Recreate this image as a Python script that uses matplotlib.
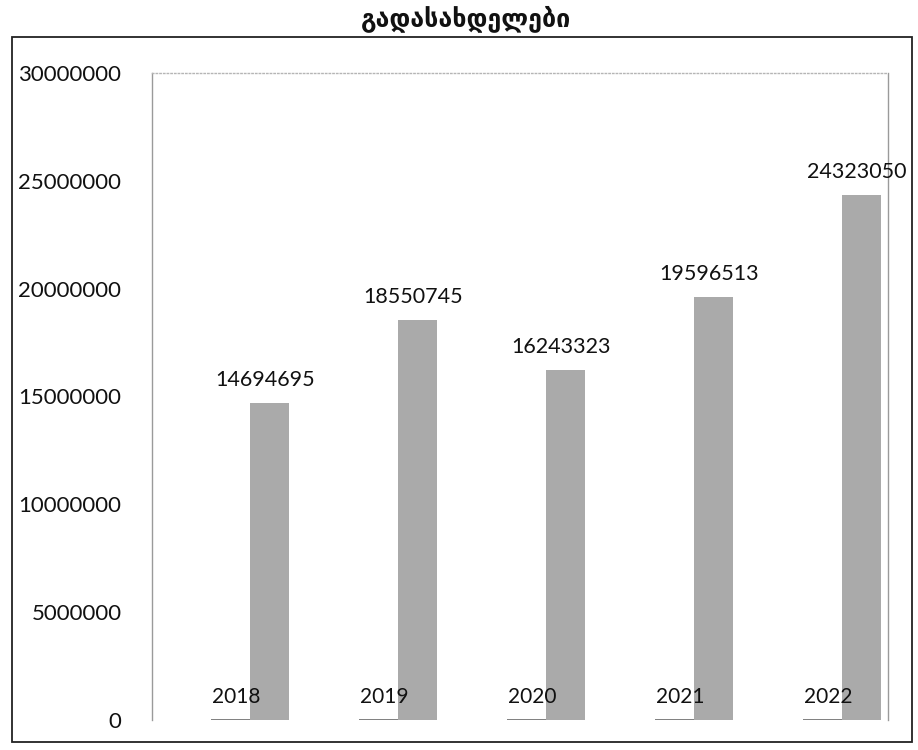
import numpy as np
import matplotlib.pyplot as plt
from matplotlib.patches import Rectangle

# データ
years = [2018, 2019, 2020, 2021, 2022]
amounts = [14694695, 18550745, 16243323, 19596513, 24323050]
title = "გადასახდელები"

fig = plt.figure(figsize=(9.18, 7.5), dpi=100)
ax = fig.add_axes([152/918, 1 - 720/750, (888 - 152)/918, (720 - 73)/750])

x = np.arange(len(years))
w = 0.265
bar_col = "#aaaaaa"

# 年の系列(ほぼ高さ0)と金額の系列
ax.bar(x - w/2, years, width=w, color=bar_col, edgecolor="#6a6a6a", linewidth=1.2)
ax.bar(x + w/2, amounts, width=w, color=bar_col, edgecolor="none")

lab_font = ["Lato", "DejaVu Sans"]
for xi, yr, am in zip(x, years, amounts):
    ax.text(xi - w/2 + 0.04, 600000, str(yr), ha="center", va="bottom",
            fontsize=15, family=lab_font, color="#111111")
    ax.text(xi + w/2 - 0.03, am + 600000, str(am), ha="center", va="bottom",
            fontsize=15.5, family=lab_font, color="#111111")

ax.set_xlim((152 - 250)/148, (888 - 250)/148)
ax.set_ylim(0, 30000000)
ax.set_yticks(np.arange(0, 30000001, 5000000))
ax.set_yticklabels([str(v) for v in range(0, 30000001, 5000000)],
                   fontsize=16, family=lab_font, color="#111111")
ax.tick_params(axis="y", length=0, pad=22)
ax.set_xticks([])

for s in ["left", "top", "right"]:
    ax.spines[s].set_color("#9a9a9a")
    ax.spines[s].set_linewidth(1.0)
ax.spines["top"].set_linestyle(":")
ax.spines["top"].set_color("#b5b5b5")
ax.spines["bottom"].set_visible(False)

# 外枠
fig.patches.append(Rectangle((12/918, 1 - 742/750), (912 - 12)/918, (742 - 37)/750,
                             transform=fig.transFigure, fill=False,
                             edgecolor="#222222", linewidth=1.3))

fig.text(466/918, 1 - 19/750, title, ha="center", va="center",
         fontsize=18, fontweight="bold", family=["DejaVu Sans"], color="#111111")

fig.savefig("out.png", dpi=100)
